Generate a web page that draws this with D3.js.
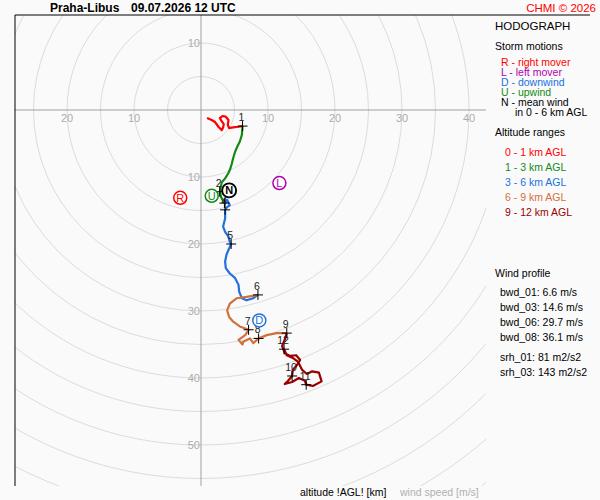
<!DOCTYPE html>
<html>
<head>
<meta charset="utf-8">
<script src="https://cdn.jsdelivr.net/npm/d3@7"></script>
<style>
  body { margin: 0; background: #fafafa; }
  svg { display: block; font-family: "Liberation Sans", Arial, sans-serif; }
</style>
</head>
<body>
<div id="hodo"></div>
<script>
// hodograph data, u/v wind components in m/s for each altitude layer
var redU = [0.9, 1.6, 2.1, 2.6, 3.1, 3.3, 3.4, 3.1, 2.8, 3.2, 3.7, 4.1, 4.0, 4.2, 4.8, 5.6, 6.2];
var redV = [-1.2, -1.5, -1.8, -2.5, -3.0, -2.6, -2.1, -1.7, -1.2, -0.9, -1.0, -1.5, -2.2, -2.7, -2.6, -2.5, -2.4];
var greenU = [6.2, 6.1, 5.8, 5.4, 5.1, 4.8, 4.6, 4.4, 4.1, 3.6, 3.1, 2.8, 3.0, 3.5];
var greenV = [-2.4, -3.7, -4.7, -5.5, -6.2, -7.2, -8.0, -8.7, -9.4, -10.2, -10.8, -12.2, -13.0, -13.9];
var blueU = [3.5, 3.9, 4.3, 3.9, 3.6, 3.6, 3.3, 3.6, 4.1, 4.3, 4.5, 4.1, 3.8, 3.6, 3.7, 4.3, 5.1, 5.6, 5.7, 6.1, 6.8, 7.8, 8.5];
var blueV = [-13.9, -13.4, -14.2, -14.5, -14.9, -16.2, -17.4, -18.2, -18.9, -19.7, -20.0, -20.9, -21.6, -22.6, -23.6, -24.4, -25.1, -26.1, -27.1, -28.1, -28.4, -28.1, -27.6];
var orangeU = [8.5, 6.8, 5.3, 4.3, 3.9, 4.2, 4.8, 5.8, 7.1, 6.6, 5.6, 6.2, 6.3, 7.3, 7.8, 8.6, 9.8, 11.3, 12.8];
var orangeV = [-27.6, -27.9, -28.1, -28.9, -29.9, -30.9, -31.6, -32.3, -32.8, -33.6, -34.3, -35.0, -34.6, -34.1, -34.8, -34.1, -33.6, -33.3, -33.3];
var darkU = [12.8, 12.5, 12.1, 12.5, 13.3, 14.2, 14.8, 14.3, 13.7, 13.6, 13.0, 12.5, 13.6, 14.6, 15.5, 15.7, 16.7, 18.0, 17.6, 16.6, 15.8, 15.1, 14.5, 13.7, 12.8, 12.4];
var darkV = [-33.3, -34.3, -35.2, -36.3, -36.7, -36.6, -37.3, -38.1, -38.8, -39.7, -40.4, -40.9, -40.6, -40.0, -40.4, -41.0, -41.2, -40.5, -39.2, -39.0, -39.4, -38.8, -37.6, -37.0, -36.6, -35.7];

// km marks along the profile
var kmLabels = ["1", "2", "3", "4", "5", "6", "7", "8", "9", "10", "11", "12"];
var kmU = [6.2, 2.8, 3.5, 3.6, 4.5, 8.5, 7.1, 8.6, 12.8, 13.6, 15.7, 12.4];
var kmV = [-2.4, -12.2, -13.9, -14.9, -20.0, -27.6, -32.8, -34.1, -33.3, -39.7, -41.0, -35.7];

// storm motions
var stormKeys = ["R", "L", "D", "U", "N"];
var stormU = [-3.1, 11.7, 8.7, 1.6, 4.2];
var stormV = [-13.1, -10.9, -31.4, -12.8, -12.0];

// legend texts
var stormNames = ["R - right mover", "L - left mover", "D - downwind", "U - upwind", "N - mean wind"];
var layerNames = ["0 - 1 km AGL", "1 - 3 km AGL", "3 - 6 km AGL", "6 - 9 km AGL", "9 - 12 km AGL"];
var profileNames = ["bwd_01: 6.6 m/s", "bwd_03: 14.6 m/s", "bwd_06: 29.7 m/s", "bwd_08: 36.1 m/s"];
var srhNames = ["srh_01: 81 m2/s2", "srh_03: 143 m2/s2"];

// ring speeds
var rings = d3.range(5, 75, 5);

var layerColors = ["#ff0000", "#128a12", "#2270e0", "#d2703c", "#9a0000"];
var stormColors = ["#ff0000", "#b000b0", "#2270e0", "#128a12", "#000000"];

var width = 600, height = 500;
var plot = {left: 15, top: 15, right: 486, bottom: 486};
var pxPerMs = 6.7;
var cx = 201, cy = 110;

var x = d3.scaleLinear()
  .domain([(plot.left - cx) / pxPerMs, (plot.right - cx) / pxPerMs])
  .range([plot.left, plot.right]);
var y = d3.scaleLinear()
  .domain([(cy - plot.top) / pxPerMs, (cy - plot.bottom) / pxPerMs])
  .range([plot.top, plot.bottom]);
var r = d3.scaleLinear().domain([0, 1]).range([0, pxPerMs]);

var svg = d3.select("#hodo").append("svg")
  .attr("width", width)
  .attr("height", height);

svg.append("rect").attr("width", width).attr("height", height).attr("fill", "#fafafa");

svg.append("clipPath").attr("id", "clip")
  .append("rect")
    .attr("x", plot.left).attr("y", plot.top)
    .attr("width", plot.right - plot.left).attr("height", plot.bottom - plot.top);

var g = svg.append("g").attr("clip-path", "url(#clip)");

// speed rings
g.selectAll("circle.ring")
  .data(rings)
  .enter()
  .append("circle")
    .attr("class", "ring")
    .attr("cx", x(0)).attr("cy", y(0))
    .attr("r", function(d) { return r(d); })
    .attr("fill", "none")
    .attr("stroke", "#dcdcdc")
    .attr("stroke-width", 1);

// axes through origin
g.append("line").attr("x1", x(0)).attr("x2", x(0)).attr("y1", plot.top).attr("y2", plot.bottom)
  .attr("stroke", "#a0a0a0");
g.append("line").attr("x1", plot.left).attr("x2", plot.right).attr("y1", y(0)).attr("y2", y(0))
  .attr("stroke", "#a0a0a0");

// ring labels on the axes
var labelSpeeds = rings.filter(function(d) { return d % 10 == 0; });
var hLabels = [];
labelSpeeds.forEach(function(d) {
  hLabels.push({s: d, px: x(-d)});
  hLabels.push({s: d, px: x(d)});
});
g.selectAll("text.hl")
  .data(hLabels.filter(function(d) { return d.px > plot.left + 8 && d.px < plot.right - 8; }))
  .enter()
  .append("text")
    .attr("x", function(d) { return d.px; })
    .attr("y", y(0) + 12)
    .attr("text-anchor", "middle")
    .attr("font-size", 11)
    .attr("fill", "#acacac")
    .text(function(d) { return d.s; });

var vLabels = [];
labelSpeeds.forEach(function(d) {
  vLabels.push({s: d, py: y(d)});
  vLabels.push({s: d, py: y(-d)});
});
g.selectAll("text.vl")
  .data(vLabels.filter(function(d) { return d.py > plot.top + 6 && d.py < plot.bottom - 6; }))
  .enter()
  .append("text")
    .attr("x", x(0) - 1)
    .attr("y", function(d) { return d.py + 4; })
    .attr("text-anchor", "end")
    .attr("font-size", 11)
    .attr("fill", "#acacac")
    .text(function(d) { return d.s; });

// plot frame, left and top only
svg.append("line").attr("x1", plot.left).attr("x2", plot.left).attr("y1", plot.top).attr("y2", plot.bottom)
  .attr("stroke", "#000");
svg.append("line").attr("x1", plot.left).attr("x2", 590).attr("y1", plot.top).attr("y2", plot.top)
  .attr("stroke", "#000");

// hodograph trace
var layersU = [redU, greenU, blueU, orangeU, darkU];
var layersV = [redV, greenV, blueV, orangeV, darkV];
var line = d3.line()
  .x(function(d) { return x(d[0]); })
  .y(function(d) { return y(d[1]); });

for (var i = 0; i < layersU.length; i++) {
  var pts = layersU[i].map(function(u, j) { return [u, layersV[i][j]]; });
  g.append("path")
    .datum(pts)
    .attr("d", line)
    .attr("fill", "none")
    .attr("stroke", layerColors[i])
    .attr("stroke-width", 2.2)
    .attr("stroke-linejoin", "round");
}

// km crosses and labels
var km = kmLabels.map(function(l, i) { return {l: l, u: kmU[i], v: kmV[i]}; });
// a label sitting right on top of the next one is not written (3 km vanishes under 4 km)
km.forEach(function(d, i) {
  var n = km[i + 1];
  d.show = !n || Math.hypot(x(d.u) - x(n.u), y(d.v) - y(n.v)) > 8;
});
var marks = g.selectAll("g.km").data(km).enter().append("g")
  .attr("transform", function(d) { return "translate(" + x(d.u) + "," + y(d.v) + ")"; });
marks.append("path")
  .attr("d", "M-5,0H5M0,-5V5")
  .attr("stroke", "#000")
  .attr("stroke-width", 1);
marks.filter(function(d) { return d.show; })
  .append("text")
  .attr("x", -1).attr("y", -5)
  .attr("text-anchor", "middle")
  .attr("font-size", 10.5)
  .attr("fill", "#222")
  .text(function(d) { return d.l; });

// storm motion markers, mean wind drawn a bit bigger and bolder
var storms = stormKeys.map(function(k, i) { return {k: k, u: stormU[i], v: stormV[i], c: stormColors[i]}; });
var sm = g.selectAll("g.storm").data(storms).enter().append("g")
  .attr("transform", function(d) { return "translate(" + x(d.u) + "," + y(d.v) + ")"; });
sm.append("circle")
  .attr("r", function(d) { return d.k == "N" ? 7 : 6.5; })
  .attr("fill", "#fff")
  .attr("stroke", function(d) { return d.c; })
  .attr("stroke-width", function(d) { return d.k == "N" ? 1.9 : 1.5; });
sm.append("text")
  .attr("y", 4)
  .attr("text-anchor", "middle")
  .attr("font-size", 11)
  .attr("font-weight", function(d) { return d.k == "N" ? "bold" : "normal"; })
  .attr("fill", function(d) { return d.c; })
  .text(function(d) { return d.k; });

// title
svg.append("text").attr("x", 50).attr("y", 12).attr("font-size", 12).attr("font-weight", "bold")
  .text("Praha-Libus");
svg.append("text").attr("x", 131).attr("y", 12).attr("font-size", 12).attr("font-weight", "bold")
  .text("09.07.2026 12 UTC");
svg.append("text").attr("x", 596).attr("y", 12).attr("font-size", 11.5).attr("text-anchor", "end")
  .attr("fill", "#ff0000").text("CHMI \u00a9 2026");

// legend panel
var lx = 495;
svg.append("text").attr("x", lx).attr("y", 30).attr("font-size", 11.5).text("HODOGRAPH");
svg.append("text").attr("x", lx).attr("y", 50).attr("font-size", 10.5).text("Storm motions");
svg.selectAll("text.sn").data(stormNames).enter().append("text")
  .attr("x", lx + 6)
  .attr("y", function(d, i) { return 65.5 + i * 10; })
  .attr("font-size", 10.5)
  .attr("fill", function(d, i) { return stormColors[i]; })
  .text(function(d) { return d; });
svg.append("text").attr("x", lx + 20).attr("y", 115.5).attr("font-size", 10.5).text("in 0 - 6 km AGL");

svg.append("text").attr("x", lx).attr("y", 136).attr("font-size", 10.5).text("Altitude ranges");
svg.selectAll("text.ln").data(layerNames).enter().append("text")
  .attr("x", lx + 10)
  .attr("y", function(d, i) { return 156 + i * 15; })
  .attr("font-size", 10.5)
  .attr("fill", function(d, i) { return layerColors[i]; })
  .text(function(d) { return d; });

svg.append("text").attr("x", lx).attr("y", 277).attr("font-size", 10.5).text("Wind profile");
svg.selectAll("text.pn").data(profileNames).enter().append("text")
  .attr("x", lx + 5)
  .attr("y", function(d, i) { return 296 + i * 15; })
  .attr("font-size", 10.5)
  .text(function(d) { return d; });
svg.selectAll("text.sr").data(srhNames).enter().append("text")
  .attr("x", lx + 5)
  .attr("y", function(d, i) { return 361 + i * 14.5; })
  .attr("font-size", 10.5)
  .text(function(d) { return d; });

// bottom axis captions
svg.append("text").attr("x", 300).attr("y", 496).attr("font-size", 10.5).text("altitude !AGL! [km]");
svg.append("text").attr("x", 400).attr("y", 496).attr("font-size", 10.5).attr("fill", "#b0b0b0").text("wind speed [m/s]");
</script>
</body>
</html>
